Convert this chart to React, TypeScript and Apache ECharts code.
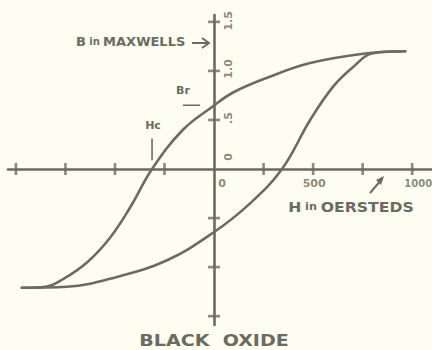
import { useEffect, useRef } from 'react';
import * as echarts from 'echarts';

const INK = '#6b6b60';
const PAPER = '#fdfdf2';
const FONT = '"DejaVu Sans", "Noto Sans", sans-serif';

// Descending branch of the loop: from +saturation down to -saturation (H in oersteds, B)
const UPPER_H = [965, 773, 485, 268, 96, -5, -157, -313, -420, -525, -640, -760, -850, -970];
const UPPER_B = [1.2, 1.18, 1.08, 0.93, 0.78, 0.64, 0.4, 0, -0.38, -0.7, -0.95, -1.12, -1.2, -1.21];

// Ascending branch: from -saturation back up to +saturation
const LOWER_H = [-970, -742, -490, -237, -5, 182, 343, 485, 601, 702, 803, 965];
const LOWER_B = [-1.21, -1.2, -1.1, -0.93, -0.65, -0.35, 0, 0.5, 0.84, 1.04, 1.18, 1.2];

// Cross ticks on both axes
const X_TICKS = [-1000, -750, -500, -250, 250, 500, 750, 1000];
const Y_TICKS = [-1.5, -1, -0.5, 0.5, 1, 1.5];

// Tick labels
const X_LABEL_VALUES = [0, 500, 1000];
const X_LABEL_TEXT = ['0', '500', '1000'];
const Y_LABEL_VALUES = [0, 0.5, 1, 1.5];
const Y_LABEL_TEXT = ['0', '.5', '1.0', '1.5'];

// Remanence (Br) and coercive force (Hc) markers
const BR_VALUE = 0.65;
const BR_MARK_H = [-157, -71];
const HC_VALUE = -313;
const HC_MARK_B = [0.31, 0.09];

export default function App() {
  const ref = useRef<HTMLDivElement>(null);

  useEffect(() => {
    document.body.style.margin = '0';
    document.body.style.background = PAPER;
    const chart = echarts.init(ref.current!, null, { renderer: 'svg' });

    const xLabelOffsets: number[][] = [[8, 14], [1, 14], [6, 14]];
    const yLabelOffsets: number[][] = [[14, -12], [14, -2], [14, -2], [14, -1]];

    const curve = (hs: number[], bs: number[]) => ({
      type: 'line',
      data: hs.map((h, i) => [h, bs[i]]),
      smooth: 0.4,
      showSymbol: false,
      symbol: 'none',
      silent: true,
      lineStyle: { color: INK, width: 2.6, cap: 'round', join: 'round' },
      z: 3,
    });

    const labelText = {
      color: INK,
      fontFamily: FONT,
      fontWeight: 'bold',
      fontSize: 11,
    };

    chart.setOption({
      animation: false,
      backgroundColor: PAPER,
      grid: { left: 8, right: 0, top: 15, bottom: 25 },
      xAxis: {
        type: 'value',
        min: -1040,
        max: 1100,
        axisLine: { onZero: true, lineStyle: { color: INK, width: 2.6 } },
        axisTick: { show: false },
        axisLabel: { show: false },
        splitLine: { show: false },
      },
      yAxis: {
        type: 'value',
        min: -1.59,
        max: 1.57,
        axisLine: { onZero: true, lineStyle: { color: INK, width: 2.6 } },
        axisTick: { show: false },
        axisLabel: { show: false },
        splitLine: { show: false },
      },
      series: [
        curve(UPPER_H, UPPER_B),
        curve(LOWER_H, LOWER_B),
        {
          type: 'scatter',
          symbol: 'rect',
          symbolSize: [2.6, 12],
          itemStyle: { color: INK },
          silent: true,
          data: X_TICKS.map((h) => [h, 0]),
          z: 4,
        },
        {
          type: 'scatter',
          symbol: 'rect',
          symbolSize: [12, 2.6],
          itemStyle: { color: INK },
          silent: true,
          data: Y_TICKS.map((b) => [0, b]),
          z: 4,
        },
        {
          type: 'scatter',
          symbolSize: 0,
          silent: true,
          data: X_LABEL_VALUES.map((h, i) => ({
            value: [h, 0],
            label: {
              position: xLabelOffsets[i],
              formatter: X_LABEL_TEXT[i],
              fontSize: i === 2 ? 10 : 11,
            },
          })),
          label: { show: true, align: 'center', verticalAlign: 'middle', ...labelText },
          z: 5,
        },
        {
          type: 'scatter',
          symbolSize: 0,
          silent: true,
          data: Y_LABEL_VALUES.map((b, i) => ({
            value: [0, b],
            label: { position: yLabelOffsets[i], formatter: Y_LABEL_TEXT[i] },
          })),
          label: { show: true, rotate: 90, align: 'center', verticalAlign: 'middle', ...labelText },
          z: 5,
        },
        {
          type: 'line',
          data: BR_MARK_H.map((h) => [h, BR_VALUE]),
          symbol: 'none',
          silent: true,
          lineStyle: { color: INK, width: 1.6 },
        },
        {
          type: 'line',
          data: HC_MARK_B.map((b) => [HC_VALUE, b]),
          symbol: 'none',
          silent: true,
          lineStyle: { color: INK, width: 1.6 },
        },
      ],
      graphic: [
        {
          type: 'text',
          left: 76,
          top: 35,
          style: {
            text: '{a|B} {b|in} {a|MAXWELLS}',
            rich: {
              a: { fontSize: 13, fontWeight: 'bold', fontFamily: FONT, fill: INK },
              b: { fontSize: 10, fontWeight: 'bold', fontFamily: FONT, fill: INK },
            },
          },
        },
        {
          type: 'line',
          shape: { x1: 192, y1: 43, x2: 208, y2: 43 },
          style: { stroke: INK, lineWidth: 2 },
        },
        {
          type: 'polyline',
          shape: { points: [[202, 38], [209, 43], [202, 48]] },
          style: { stroke: INK, lineWidth: 2, fill: 'none' },
        },
        {
          type: 'text',
          x: 183,
          y: 90,
          style: {
            text: 'Br',
            fontSize: 11,
            fontWeight: 'bold',
            fontFamily: FONT,
            fill: INK,
            align: 'center',
            verticalAlign: 'middle',
          },
        },
        {
          type: 'text',
          x: 153,
          y: 125,
          style: {
            text: 'Hc',
            fontSize: 11,
            fontWeight: 'bold',
            fontFamily: FONT,
            fill: INK,
            align: 'center',
            verticalAlign: 'middle',
          },
        },
        {
          type: 'text',
          x: 351,
          y: 207,
          scaleX: 1.12,
          style: {
            text: '{a|H} {b|in} {a|OERSTEDS}',
            align: 'center',
            verticalAlign: 'middle',
            rich: {
              a: { fontSize: 14, fontWeight: 'bold', fontFamily: FONT, fill: INK },
              b: { fontSize: 10, fontWeight: 'bold', fontFamily: FONT, fill: INK },
            },
          },
        },
        {
          type: 'line',
          shape: { x1: 370, y1: 193, x2: 382, y2: 179 },
          style: { stroke: INK, lineWidth: 2 },
        },
        {
          type: 'polygon',
          shape: { points: [[384, 176], [376, 180], [381, 185]] },
          style: { fill: INK },
        },
        {
          type: 'text',
          x: 214,
          y: 341,
          scaleX: 1.19,
          style: {
            text: 'BLACK  OXIDE',
            fontSize: 16,
            fontWeight: 'bold',
            fontFamily: FONT,
            fill: INK,
            align: 'center',
            verticalAlign: 'middle',
          },
        },
      ],
    });

    return () => chart.dispose();
  }, []);

  return (
    <div
      ref={ref}
      style={{ position: 'absolute', left: 0, top: 0, width: 432, height: 350, background: PAPER }}
    />
  );
}
